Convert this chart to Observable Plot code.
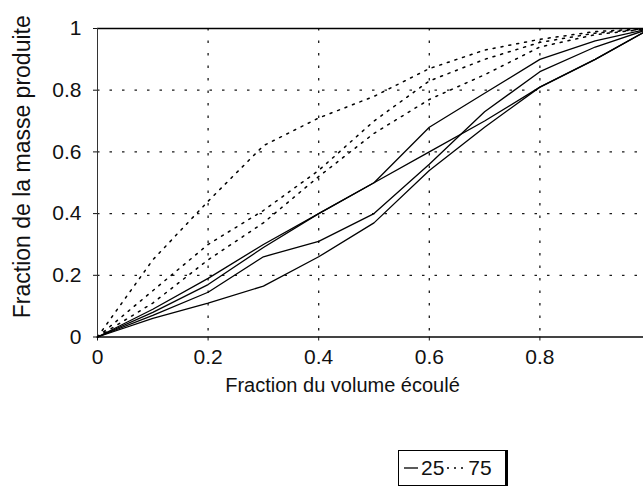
<!DOCTYPE html>
<html><head><meta charset="utf-8">
<script src="https://cdn.jsdelivr.net/npm/d3@7"></script>
<script src="https://cdn.jsdelivr.net/npm/@observablehq/plot@0.6"></script>
<style>
body{margin:0;background:#fff;font-family:"Liberation Sans",Arial,sans-serif;}
#chart{position:relative;width:643px;height:501px;overflow:hidden;background:#fff}
#chart svg{overflow:hidden}
#legend{position:absolute;left:398px;top:450px;width:106px;height:34px;border:1px solid #000;border-right-width:3px;display:flex;align-items:center;font-size:21px;color:#111;box-sizing:content-box}
#legend span{margin:0 2px}
</style></head><body><div id="chart"></div>
<script>
// Fraction du volume écoulé
const xFrac = [0, 0.1, 0.2, 0.3, 0.4, 0.5, 0.6, 0.7, 0.8, 0.9, 1];
// series "25" (solid lines)
const s25a = [0, 0.09, 0.19, 0.30, 0.40, 0.50, 0.68, 0.79, 0.90, 0.96, 1];
const s25b = [0, 0.08, 0.17, 0.29, 0.40, 0.50, 0.60, 0.70, 0.81, 0.90, 1];
const s25c = [0, 0.07, 0.145, 0.26, 0.31, 0.40, 0.56, 0.73, 0.86, 0.94, 1];
const s25d = [0, 0.06, 0.11, 0.165, 0.26, 0.37, 0.54, 0.68, 0.81, 0.90, 1];
// series "75" (dotted lines)
const s75a = [0, 0.25, 0.44, 0.62, 0.71, 0.78, 0.87, 0.93, 0.965, 0.99, 1];
const s75b = [0, 0.15, 0.30, 0.41, 0.54, 0.70, 0.83, 0.90, 0.955, 0.985, 1];
const s75c = [0, 0.11, 0.25, 0.37, 0.52, 0.66, 0.77, 0.85, 0.94, 0.98, 1];
const seriesNames = ["25", "75"];
const xTicks = [0, 0.2, 0.4, 0.6, 0.8, 1];
const yTicks = [0, 0.2, 0.4, 0.6, 0.8, 1];
const xTitle = "Fraction du volume écoulé";
const yTitle = "Fraction de la masse produite";

const runs = [
  {name: "25", id: "a", v: s25a}, {name: "25", id: "b", v: s25b},
  {name: "25", id: "c", v: s25c}, {name: "25", id: "d", v: s25d},
  {name: "75", id: "e", v: s75a}, {name: "75", id: "f", v: s75b},
  {name: "75", id: "g", v: s75c}
];
const rows = runs.flatMap(r => r.v.map((y, i) => ({x: xFrac[i], y, series: r.name, run: r.id})));
const fmt = d => String(+d.toFixed(1));

const plot = Plot.plot({
  width: 643, height: 440,
  marginTop: 28, marginBottom: 103.5, marginLeft: 97, marginRight: 0,
  x: {domain: [0, 1], range: [97, 650]},
  y: {domain: [0, 1]},
  style: {fontFamily: "Liberation Sans, Arial, sans-serif", fontSize: "21px", color: "#111", background: "#fff"},
  marks: [
    Plot.gridX(xTicks.slice(1, -1), {stroke: "#000", strokeOpacity: 0.9, strokeWidth: 1.3, strokeDasharray: "2.5,10"}),
    Plot.gridY(yTicks.slice(1, -1), {stroke: "#000", strokeOpacity: 0.9, strokeWidth: 1.3, strokeDasharray: "2.5,10"}),
    Plot.ruleY([1], {stroke: "#000", strokeWidth: 1.3}),
    Plot.ruleX([0], {stroke: "#333", strokeWidth: 1}),
    Plot.ruleY([0], {stroke: "#444", strokeWidth: 1.8}),
    Plot.axisX(xTicks, {tickSize: 4, tickPadding: 8, tickFormat: fmt, fontSize: 21, label: null}),
    Plot.axisY(yTicks, {tickSize: 4, tickPadding: 12, tickFormat: fmt, fontSize: 21, label: null}),
    Plot.text([xTitle], {frameAnchor: "bottom", dx: -28, dy: 55, fontSize: 20, fill: "#111"}),
    Plot.text([yTitle], {frameAnchor: "left", textAnchor: "middle", rotate: -90, dx: -75, dy: -16, fontSize: 23, fill: "#111"}),
    Plot.line(rows.filter(d => d.series === seriesNames[1]), {x: "x", y: "y", z: "run", stroke: "#000", strokeWidth: 1.5, strokeDasharray: "2,6"}),
    Plot.line(rows.filter(d => d.series === seriesNames[0]), {x: "x", y: "y", z: "run", stroke: "#000", strokeWidth: 1.3})
  ]
});
const chart = document.getElementById("chart");
chart.appendChild(plot);

const legend = document.createElement("div");
legend.id = "legend";
legend.innerHTML =
  `<svg width="16" height="10" style="margin-left:4px"><line x1="1" x2="15" y1="5" y2="5" stroke="#000" stroke-width="1.3"/></svg>` +
  `<span>${seriesNames[0]}</span>` +
  `<svg width="18" height="10"><line x1="1" x2="17" y1="5" y2="5" stroke="#000" stroke-width="1.5" stroke-dasharray="2,5"/></svg>` +
  `<span style="margin-left:4px">${seriesNames[1]}</span>`;
chart.appendChild(legend);
</script>
</body></html>
